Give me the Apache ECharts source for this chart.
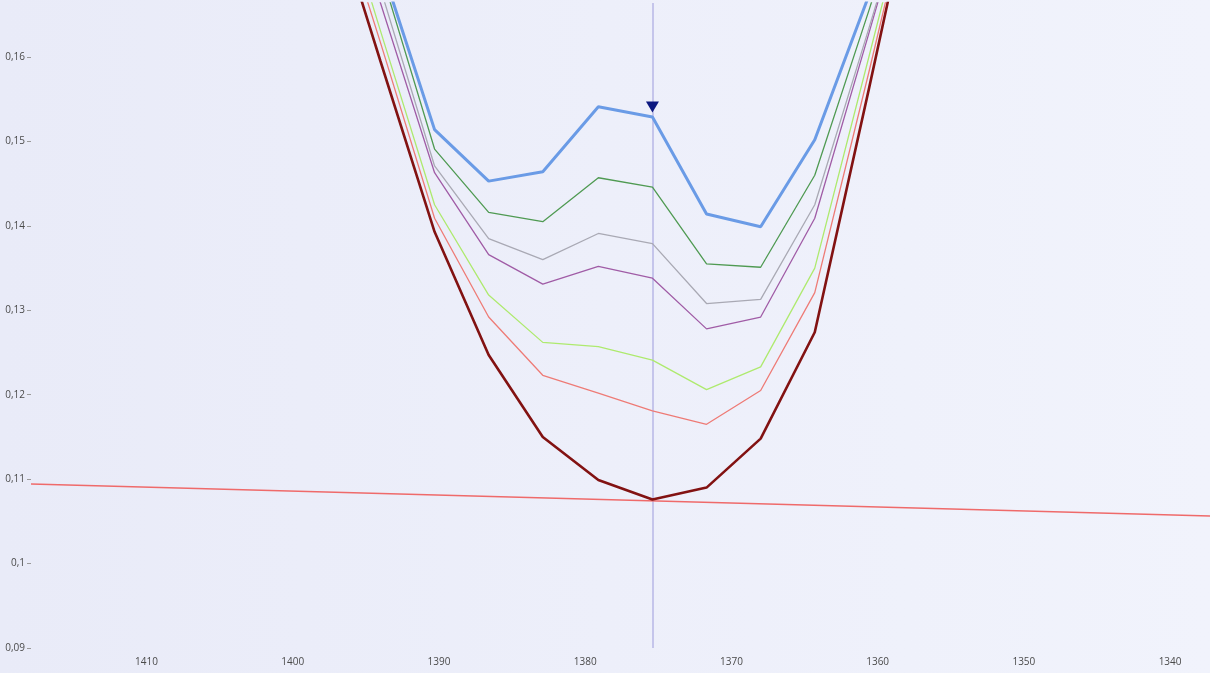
<!DOCTYPE html>
<html>
<head>
<meta charset="utf-8">
<script src="https://cdn.jsdelivr.net/npm/echarts@6/dist/echarts.min.js"></script>
<style>
  html, body { margin: 0; padding: 0; }
  #chart { width: 1210px; height: 673px; }
</style>
</head>
<body>
<div id="chart"></div>
<script>
// Wavenumbers (cm-1) of the sampled spectrum points
const wavenumbers = [1397.7, 1394.0, 1390.3, 1386.6, 1382.9, 1379.1, 1375.4, 1371.7, 1368.0, 1364.3, 1360.6, 1356.9];

// Absorbance traces, one per spectrum
const spectrumDarkRed  = [0.180, 0.1595, 0.1393, 0.1247, 0.1150, 0.1099, 0.1076, 0.1090, 0.1148, 0.1274, 0.1562, 0.1857];
const spectrumSalmon   = [0.182, 0.1617, 0.1409, 0.1292, 0.1223, 0.1202, 0.1181, 0.1165, 0.1205, 0.1321, 0.1582, 0.1852];
const spectrumLime     = [0.184, 0.1631, 0.1425, 0.1318, 0.1262, 0.1257, 0.1241, 0.1206, 0.1233, 0.1350, 0.1600, 0.1853];
const spectrumPurple   = [0.186, 0.1664, 0.1463, 0.1366, 0.1331, 0.1352, 0.1338, 0.1278, 0.1292, 0.1409, 0.1628, 0.1850];
const spectrumGray     = [0.188, 0.1681, 0.1471, 0.1385, 0.1360, 0.1391, 0.1379, 0.1308, 0.1313, 0.1425, 0.1634, 0.1846];
const spectrumGreen    = [0.190, 0.1703, 0.1491, 0.1416, 0.1405, 0.1457, 0.1446, 0.1355, 0.1351, 0.1460, 0.1655, 0.1857];
const spectrumBlue     = [0.192, 0.1711, 0.1514, 0.1453, 0.1464, 0.1541, 0.1529, 0.1414, 0.1399, 0.1502, 0.1673, 0.1900];

// Baseline drawn across the band (two end points)
const baselineX = [1417.9, 1337.27];
const baselineY = [0.10943, 0.10564];

// Cursor position and the picked point on the top trace
const cursorX = 1375.4;
const cursorY = 0.1529;

// Axis tick labels
const xTicks = [1340, 1350, 1360, 1370, 1380, 1390, 1400, 1410];
const yTicks = [0.09, 0.10, 0.11, 0.12, 0.13, 0.14, 0.15, 0.16];

const zip = (xs, ys) => xs.map((x, i) => [x, ys[i]]);

function trace(name, values, color, width, z) {
  return {
    name: name,
    type: 'line',
    data: zip(wavenumbers, values),
    showSymbol: false,
    symbol: 'none',
    clip: true,
    z: z,
    lineStyle: { color: color, width: width },
    emphasis: { disabled: true },
    animation: false
  };
}

const chart = echarts.init(document.getElementById('chart'), null, { renderer: 'canvas' });

const labelFont = { fontFamily: 'Open Sans, Noto Sans, sans-serif', fontSize: 10, color: '#4a4a4a' };

chart.setOption({
  animation: false,
  backgroundColor: {
    type: 'linear', x: 0, y: 0, x2: 1, y2: 0,
    colorStops: [
      { offset: 0, color: '#e9ebf8' },
      { offset: 1, color: '#f1f3fc' }
    ]
  },
  grid: { left: 31, right: 0, top: 3, bottom: 25, containLabel: false },
  xAxis: {
    type: 'value',
    inverse: true,
    min: 1337.27,
    max: 1417.9,
    axisLine: { show: false },
    axisTick: { show: false, customValues: xTicks },
    splitLine: { show: false },
    axisLabel: Object.assign({
      customValues: xTicks,
      margin: 9,
      formatter: v => String(v)
    }, labelFont)
  },
  yAxis: {
    type: 'value',
    min: 0.09,
    max: 0.1664,
    axisLine: { show: false },
    splitLine: { show: false },
    axisTick: {
      show: true,
      customValues: yTicks,
      length: 4,
      lineStyle: { color: '#9a9a9a', width: 1 }
    },
    axisLabel: Object.assign({
      customValues: yTicks,
      margin: 6,
      formatter: v => String(+v.toFixed(2)).replace('.', ',')
    }, labelFont)
  },
  series: [
    {
      name: 'baseline',
      type: 'line',
      data: zip(baselineX, baselineY),
      symbol: 'none',
      z: 2,
      lineStyle: { color: '#ef6a6a', width: 1.5 },
      emphasis: { disabled: true },
      markLine: {
        silent: true,
        symbol: ['none', 'none'],
        label: { show: false },
        lineStyle: { color: '#b7b7e6', width: 1.5, type: 'solid' },
        data: [{ xAxis: cursorX }],
        z: 1
      }
    },
    trace('S7', spectrumDarkRed, '#821212', 2.6, 3),
    trace('S6', spectrumSalmon, '#ee7b76', 1.3, 3),
    trace('S5', spectrumLime, '#aeea6e', 1.3, 3),
    trace('S4', spectrumPurple, '#a05ca6', 1.3, 3),
    trace('S3', spectrumGray, '#a9a9b4', 1.3, 3),
    trace('S2', spectrumGreen, '#4f9a52', 1.3, 3),
    trace('S1', spectrumBlue, '#6a9be6', 3, 4),
    {
      name: 'cursor',
      type: 'scatter',
      data: [[cursorX, cursorY]],
      symbol: 'triangle',
      symbolRotate: 180,
      symbolSize: [13, 11],
      symbolOffset: [0, -10],
      itemStyle: { color: '#0c1880', opacity: 1 },
      z: 6,
      emphasis: { disabled: true }
    }
  ]
});
</script>
</body>
</html>
